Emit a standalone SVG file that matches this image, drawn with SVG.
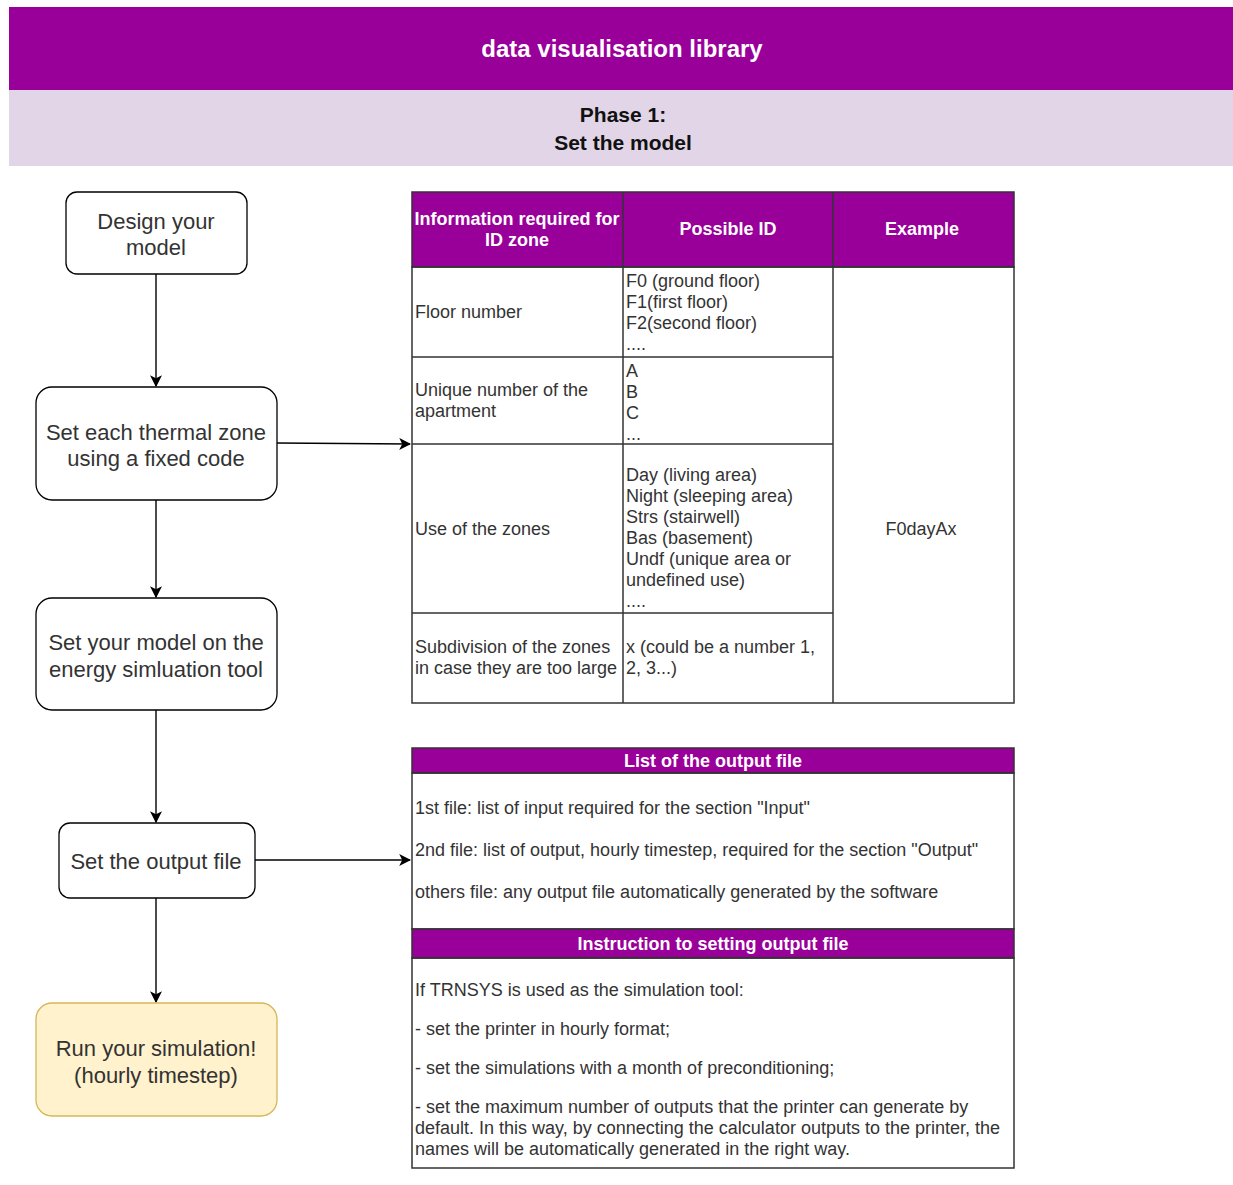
<svg xmlns="http://www.w3.org/2000/svg" width="1233" height="1185" viewBox="0 0 1233 1185">
<defs>
<marker id="arr" viewBox="0 0 10 10" refX="9" refY="5" markerWidth="12" markerHeight="12" markerUnits="userSpaceOnUse" orient="auto">
<path d="M0,0 L10,5 L0,10 L2.5,5 Z" fill="#000"/>
</marker>
<style>
.node{fill:#fff;stroke:#000;stroke-width:1.3}
.run{fill:#FFF2CC;stroke:#D6B656;stroke-width:1.3}
.nt{font-family:"Liberation Sans",Arial,sans-serif;font-size:22px;fill:#333;text-anchor:middle}
.t{font-family:"Liberation Sans",Arial,sans-serif;font-size:18px;fill:#333}
.tc{font-family:"Liberation Sans",Arial,sans-serif;font-size:18px;fill:#333;text-anchor:middle}
.h{font-family:"Liberation Sans",Arial,sans-serif;font-size:18px;font-weight:bold;fill:#fff;text-anchor:middle}
.cell{fill:none;stroke:#333;stroke-width:1.5}
.hd{fill:#990099;stroke:#333;stroke-width:1.5}
.conn{fill:none;stroke:#000;stroke-width:1.4}
</style>
</defs>
<rect width="1233" height="1185" fill="#fff"/>
<g id="banner">
<rect x="9" y="7" width="1224" height="83" fill="#990099"/>
<text x="622" y="57" font-family="Liberation Sans,Arial,sans-serif" font-size="24" font-weight="bold" fill="#fff" text-anchor="middle">data visualisation library</text>
<rect x="9" y="90" width="1224" height="76" fill="#E1D5E7"/>
<text x="623" y="122" font-family="Liberation Sans,Arial,sans-serif" font-size="21" font-weight="bold" fill="#111" text-anchor="middle">Phase 1:</text>
<text x="623" y="150" font-family="Liberation Sans,Arial,sans-serif" font-size="21" font-weight="bold" fill="#111" text-anchor="middle">Set the model</text>
</g>
<g id="connectors">
<line class="conn" x1="156" y1="274" x2="156" y2="386" marker-end="url(#arr)"/>
<line class="conn" x1="156" y1="500" x2="156" y2="597" marker-end="url(#arr)"/>
<line class="conn" x1="156" y1="710" x2="156" y2="822" marker-end="url(#arr)"/>
<line class="conn" x1="156" y1="898" x2="156" y2="1002" marker-end="url(#arr)"/>
<line class="conn" x1="277" y1="443" x2="410" y2="444" marker-end="url(#arr)"/>
<line class="conn" x1="255" y1="860" x2="410" y2="860" marker-end="url(#arr)"/>
</g>
<g id="n-design">
<rect class="node" x="66" y="192" width="181" height="82" rx="11"/>
<text class="nt" x="156" y="229">Design your</text>
<text class="nt" x="156" y="255">model</text>
</g>
<g id="n-zone">
<rect class="node" x="36" y="387" width="241" height="113" rx="16"/>
<text class="nt" x="156" y="440">Set each thermal zone</text>
<text class="nt" x="156" y="466">using a fixed code</text>
</g>
<g id="n-tool">
<rect class="node" x="36" y="598" width="241" height="112" rx="16"/>
<text class="nt" x="156" y="650">Set your model on the</text>
<text class="nt" x="156" y="677">energy simluation tool</text>
</g>
<g id="n-output">
<rect class="node" x="59" y="823" width="196" height="75" rx="11"/>
<text class="nt" x="156" y="869">Set the output file</text>
</g>
<g id="n-run">
<rect class="run" x="36" y="1003" width="241" height="113" rx="16"/>
<text class="nt" x="156" y="1056">Run your simulation!</text>
<text class="nt" x="156" y="1083">(hourly timestep)</text>
</g>
<g id="table-id">
<rect class="hd" x="412" y="192" width="602" height="75"/>
<line class="cell" x1="623" y1="192" x2="623" y2="267"/>
<line class="cell" x1="833" y1="192" x2="833" y2="267"/>
<text class="h" x="517" y="225">Information required for</text>
<text class="h" x="517" y="246">ID zone</text>
<text class="h" x="728" y="235">Possible ID</text>
<text class="h" x="922" y="235">Example</text>
<rect class="cell" x="412" y="267" width="602" height="436"/>
<line class="cell" x1="623" y1="267" x2="623" y2="703"/>
<line class="cell" x1="833" y1="267" x2="833" y2="703"/>
<line class="cell" x1="412" y1="357" x2="833" y2="357"/>
<line class="cell" x1="412" y1="444" x2="833" y2="444"/>
<line class="cell" x1="412" y1="613" x2="833" y2="613"/>
<text class="t" x="415" y="318">Floor number</text>
<text class="t" x="626" y="287">F0 (ground floor)</text>
<text class="t" x="626" y="308">F1(first floor)</text>
<text class="t" x="626" y="329">F2(second floor)</text>
<text class="t" x="626" y="350">....</text>
<text class="t" x="415" y="396">Unique number of the</text>
<text class="t" x="415" y="417">apartment</text>
<text class="t" x="626" y="377">A</text>
<text class="t" x="626" y="398">B</text>
<text class="t" x="626" y="419">C</text>
<text class="t" x="626" y="440">...</text>
<text class="t" x="415" y="535">Use of the zones</text>
<text class="t" x="626" y="481">Day (living area)</text>
<text class="t" x="626" y="502">Night (sleeping area)</text>
<text class="t" x="626" y="523">Strs (stairwell)</text>
<text class="t" x="626" y="544">Bas (basement)</text>
<text class="t" x="626" y="565">Undf (unique area or</text>
<text class="t" x="626" y="586">undefined use)</text>
<text class="t" x="626" y="607">....</text>
<text class="t" x="415" y="653">Subdivision of the zones</text>
<text class="t" x="415" y="674">in case they are too large</text>
<text class="t" x="626" y="653">x (could be a number 1,</text>
<text class="t" x="626" y="674">2, 3...)</text>
<text class="tc" x="921" y="535">F0dayAx</text>
</g>
<g id="table-output">
<rect class="hd" x="412" y="748" width="602" height="25"/>
<text class="h" x="713" y="767">List of the output file</text>
<rect class="cell" x="412" y="773" width="602" height="156"/>
<text class="t" x="415" y="814">1st file: list of input required for the section "Input"</text>
<text class="t" x="415" y="856">2nd file: list of output, hourly timestep, required for the section "Output"</text>
<text class="t" x="415" y="898">others file: any output file automatically generated by the software</text>
<rect class="hd" x="412" y="929" width="602" height="29"/>
<text class="h" x="713" y="950">Instruction to setting output file</text>
<rect class="cell" x="412" y="958" width="602" height="210"/>
<text class="t" x="415" y="996">If TRNSYS is used as the simulation tool:</text>
<text class="t" x="415" y="1035">- set the printer in hourly format;</text>
<text class="t" x="415" y="1074">- set the simulations with a month of preconditioning;</text>
<text class="t" x="415" y="1113">- set the maximum number of outputs that the printer can generate by</text>
<text class="t" x="415" y="1134">default. In this way, by connecting the calculator outputs to the printer, the</text>
<text class="t" x="415" y="1155">names will be automatically generated in the right way.</text>
</g>
</svg>
